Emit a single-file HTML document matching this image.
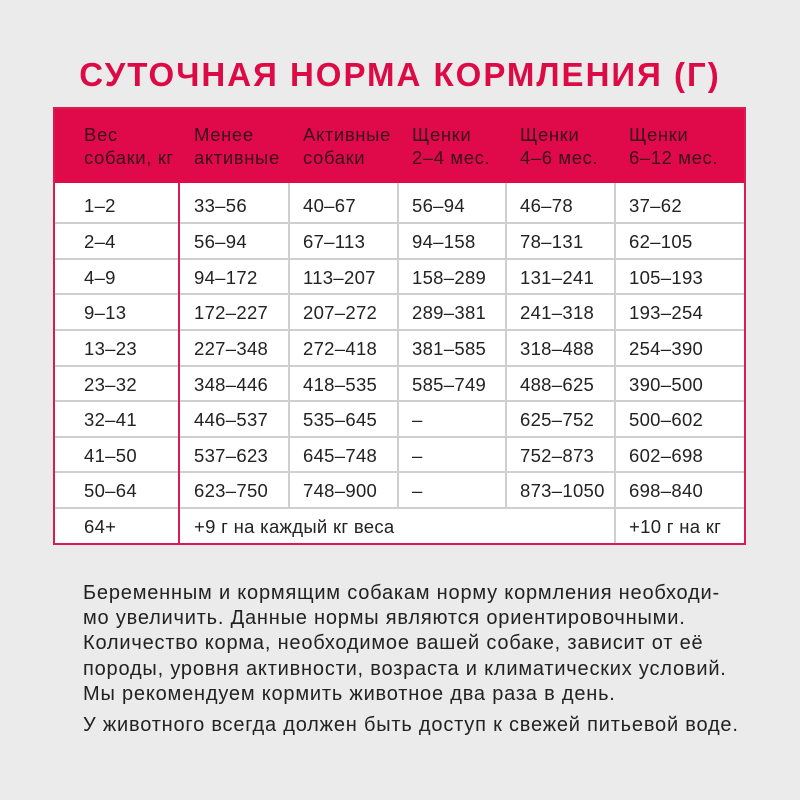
<!DOCTYPE html>
<html><head><meta charset="utf-8"><style>
body{margin:0;width:800px;height:800px;background:#ebebeb;font-family:"Liberation Sans","DejaVu Sans",sans-serif;position:relative;overflow:hidden}
h1{position:absolute;top:56px;left:0;width:800px;text-align:center;margin:0;font-size:33px;font-weight:bold;color:#dc0b45;letter-spacing:2px}
.t{position:absolute;left:53px;top:107px;width:693px;height:438px;border:2px solid #d81d52;box-sizing:border-box;background:#fff}
.hd{position:absolute;left:0;top:0;width:100%;height:74px;background:#e00a4a}
.c{position:absolute;font-size:18.5px;color:#222;white-space:nowrap;letter-spacing:0.3px}
.h{position:absolute;font-size:18.5px;color:#3a0d1c;line-height:23px;letter-spacing:0.6px;white-space:nowrap}
.vl{position:absolute;width:1.5px;background:#cfcfcf}
.hl{position:absolute;height:1.5px;background:#cfcfcf;left:0;width:100%}
p{position:absolute;left:83px;margin:0;font-size:20px;color:#222;line-height:25.2px;width:700px;letter-spacing:0.8px;white-space:nowrap}
</style></head><body>
<h1>СУТОЧНАЯ НОРМА КОРМЛЕНИЯ (Г)</h1>
<div class="t" id="t"><div class="hd"></div></div>
<p style="top:581px">Беременным и кормящим собакам норму кормления необходи-<br>мо увеличить. Данные нормы являются ориентировочными.<br>Количество корма, необходимое вашей собаке, зависит от её<br>породы, уровня активности, возраста и климатических условий.<br>Мы рекомендуем кормить животное два раза в день.</p>
<p style="top:713px">У животного всегда должен быть доступ к свежей питьевой воде.</p>
<script>
const t=document.getElementById('t');
const cols=[0,125,234,343,451,560,693];
const heads=["Вес<br>собаки, кг","Менее<br>активные","Активные<br>собаки","Щенки<br>2–4 мес.","Щенки<br>4–6 мес.","Щенки<br>6–12 мес."];
heads.forEach((h,i)=>{t.insertAdjacentHTML('beforeend',`<div class="h" style="left:${cols[i]+(i?14:29)}px;top:14px">${h}</div>`)});
const rows=[["1–2","33–56","40–67","56–94","46–78","37–62"],["2–4","56–94","67–113","94–158","78–131","62–105"],["4–9","94–172","113–207","158–289","131–241","105–193"],["9–13","172–227","207–272","289–381","241–318","193–254"],["13–23","227–348","272–418","381–585","318–488","254–390"],["23–32","348–446","418–535","585–749","488–625","390–500"],["32–41","446–537","535–645","–","625–752","500–602"],["41–50","537–623","645–748","–","752–873","602–698"],["50–64","623–750","748–900","–","873–1050","698–840"]];
const tops=[73,113,149,184,220,256,291,327,362,398,434];
for(let r=1;r<10;r++)t.insertAdjacentHTML('beforeend',`<div class="hl" style="top:${tops[r]}px"></div>`);
for(let i=2;i<6;i++){t.insertAdjacentHTML('beforeend',`<div class="vl" style="left:${cols[i]-1}px;top:74px;height:${(i==5?434:398)-74}px"></div>`)}
t.insertAdjacentHTML('beforeend',`<div style="position:absolute;left:123px;top:74px;width:2px;height:362px;background:#d81d52"></div>`);
rows.forEach((r,ri)=>{const y=(tops[ri]+tops[ri+1])/2-11+(ri==0?4:2);r.forEach((v,ci)=>{t.insertAdjacentHTML('beforeend',`<div class="c" style="left:${cols[ci]+(ci?14:29)}px;top:${y}px">${v}</div>`)})});
const y=(398+434)/2-9;
t.insertAdjacentHTML('beforeend',`<div class="c" style="left:29px;top:${y}px">64+</div><div class="c" style="left:139px;top:${y}px">+9 г на каждый кг веса</div><div class="c" style="left:574px;top:${y}px">+10 г на кг</div>`);
</script>
</body></html>
